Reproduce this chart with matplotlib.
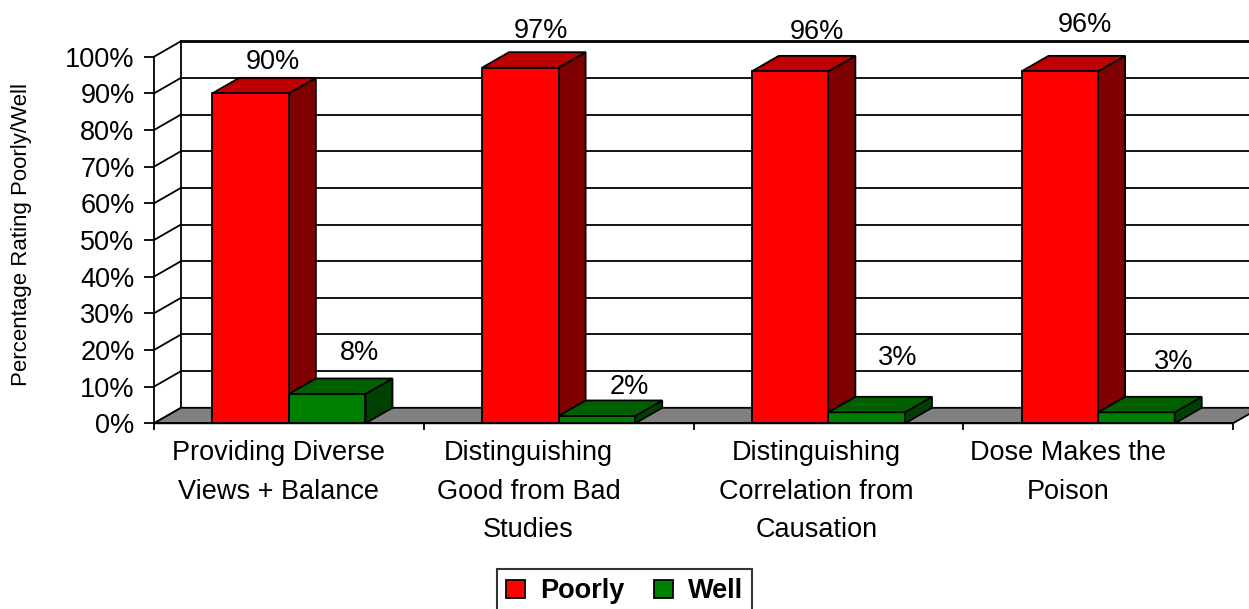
import matplotlib
matplotlib.use("Agg")
import matplotlib.pyplot as plt
from matplotlib.patches import Polygon, Patch

plt.rcParams['font.family'] = ['Liberation Sans', 'DejaVu Sans']

# ---------------- data ----------------
categories = ["Providing Diverse\nViews + Balance",
              "Distinguishing\nGood from Bad\nStudies",
              "Distinguishing\nCorrelation from\nCausation",
              "Dose Makes the\nPoison"]
series_names = ["Poorly", "Well"]
poorly = [90, 97, 96, 96]
well = [8, 2, 3, 3]
y_ticks = [0, 10, 20, 30, 40, 50, 60, 70, 80, 90, 100]
y_tick_labels = ["0%", "10%", "20%", "30%", "40%", "50%", "60%", "70%", "80%", "90%", "100%"]
y_label = "Percentage Rating Poorly/Well"

# ---------------- style ----------------
W, H = 1249, 609
ax_left_px, ax_right_px = 154, 1233
ax_bottom_px, ax_top_px = 423.3, 56.7
depth_px = (27, 15.5)
bar_w = 0.284
front_cols = ["#FF0000", "#008000"]
top_cols = ["#BF0000", "#006000"]
side_cols = ["#7F0000", "#004000"]
floor_col = "#808080"
lw = 1.3
fs = 19.5
# value-label offsets (pixels) relative to front-top centre of each bar
poorly_lbl_off = [(22, 31), (21, 37), (27, 39), (25, 46)]
well_lbl_off = [(32, 41), (32, 29), (31, 54), (37, 50)]
cat_lbl_dx = [-10, -30, -12, -30]

fig = plt.figure(figsize=(W / 100, H / 100), dpi=100)
ax = fig.add_axes([ax_left_px / W, (H - ax_bottom_px) / H,
                   (ax_right_px - ax_left_px) / W, (ax_bottom_px - ax_top_px) / H])
ncat = len(categories)
ax.set_xlim(0, ncat)
ax.set_ylim(0, 100)

ppx = (ax_right_px - ax_left_px) / ncat
ppy = (ax_bottom_px - ax_top_px) / 100.0
DX = depth_px[0] / ppx
DY = depth_px[1] / ppy

# back wall grid lines and left wall diagonals
for v in y_ticks:
    ax.plot([DX, ncat + DX + 0.5], [v + DY, v + DY], color="black",
            lw=(2.0 if v == y_ticks[-1] else lw), clip_on=False, zorder=1.1)
    ax.plot([0, DX], [v, v + DY], color="black", lw=lw, clip_on=False, zorder=1.1)
ax.plot([DX, DX], [DY, y_ticks[-1] + DY], color="black", lw=lw, clip_on=False, zorder=1.1)

# floor
ax.add_patch(Polygon([(0, 0), (ncat, 0), (ncat + DX, DY), (DX, DY)], closed=True,
                     facecolor=floor_col, edgecolor="black", lw=lw, clip_on=False, zorder=1.2))


def faces(x0s, vals, k, z):
    for x0, h in zip(x0s, vals):
        top = [(x0, h), (x0 + bar_w, h), (x0 + bar_w + DX, h + DY), (x0 + DX, h + DY)]
        side = [(x0 + bar_w, 0), (x0 + bar_w + DX, DY), (x0 + bar_w + DX, h + DY), (x0 + bar_w, h)]
        ax.add_patch(Polygon(side, closed=True, facecolor=side_cols[k], edgecolor="black",
                             lw=lw, clip_on=False, zorder=z))
        ax.add_patch(Polygon(top, closed=True, facecolor=top_cols[k], edgecolor="black",
                             lw=lw, clip_on=False, zorder=z))


centers = [i + 0.5 for i in range(ncat)]
x_poorly = [c - bar_w for c in centers]
x_well = list(centers)

faces(x_poorly, poorly, 0, 3)
ax.bar(x_poorly, poorly, width=bar_w, align="edge", color=front_cols[0],
       edgecolor="black", lw=lw, zorder=3.1, clip_on=False)
ax.bar(x_well, well, width=bar_w, align="edge", color=front_cols[1],
       edgecolor="black", lw=lw, zorder=4, clip_on=False)
faces(x_well, well, 1, 4.1)

# value labels
for x0, v, off in zip(x_poorly, poorly, poorly_lbl_off):
    ax.annotate(f"{v}%", (x0 + bar_w / 2, v), xytext=off, textcoords="offset pixels",
                ha="center", va="center", fontsize=fs, annotation_clip=False, zorder=6)
for x0, v, off in zip(x_well, well, well_lbl_off):
    ax.annotate(f"{v}%", (x0 + bar_w / 2, v), xytext=off, textcoords="offset pixels",
                ha="center", va="center", fontsize=fs, annotation_clip=False, zorder=6)

# category labels
for c, lab, dx in zip(centers, categories, cat_lbl_dx):
    ax.annotate(lab, (c, 0), xytext=(dx, -17), textcoords="offset pixels",
                ha="center", va="top", fontsize=fs, linespacing=1.62,
                multialignment="center", annotation_clip=False)

# axes
for s in ["top", "right"]:
    ax.spines[s].set_visible(False)
for s in ["left", "bottom"]:
    ax.spines[s].set_linewidth(lw)
    ax.spines[s].set_zorder(2.5)
ax.set_yticks(y_ticks)
ax.set_yticklabels(y_tick_labels)
ax.set_xticks(range(ncat + 1))
ax.set_xticklabels([])
ax.tick_params(axis="y", direction="out", length=7, width=lw, labelsize=fs, pad=7)
ax.tick_params(axis="x", direction="out", length=5, width=lw)

fig.text(22 / W, 1 - 234 / H, y_label, rotation=90, ha="center", va="center", fontsize=16)

handles = [Patch(facecolor=front_cols[0], edgecolor="black", lw=lw),
           Patch(facecolor=front_cols[1], edgecolor="black", lw=lw)]
leg = fig.legend(handles, series_names, loc="upper center", bbox_to_anchor=(0.5, 1 - 569 / H),
                 ncol=2, frameon=True, fancybox=False, edgecolor="black",
                 prop={"weight": "bold", "size": fs}, handlelength=0.7, handleheight=0.7,
                 columnspacing=1.1, handletextpad=0.55, borderpad=0.35, borderaxespad=0)
leg.get_frame().set_linewidth(1.5)

fig.savefig("out.png", dpi=100)
